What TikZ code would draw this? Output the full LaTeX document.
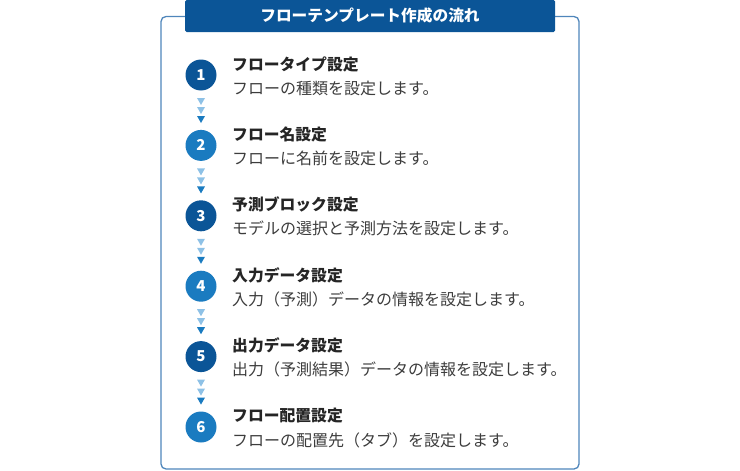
\documentclass[tikz,border=0pt]{standalone}
\usepackage{fontspec}
\setmainfont{Noto Sans CJK JP}
\usetikzlibrary{calc}
\definecolor{navy}{HTML}{0B5597}
\definecolor{midblue}{HTML}{1A7BC0}
\definecolor{paleblue}{HTML}{8EC1E6}
\definecolor{framecol}{HTML}{4F86BB}
\definecolor{txtdark}{HTML}{252525}
\definecolor{txtgray}{HTML}{3C3C3C}
\tikzset{
  framebox/.style={draw=framecol, line width=1.3pt, rounded corners=5pt},
  headbox/.style={fill=navy, rounded corners=1.5pt},
  headtext/.style={text=white, font=\fontsize{15.7}{18}\selectfont\bfseries, inner sep=0pt},
  numdot/.style={circle, minimum size=31pt, inner sep=0pt, text=white, font=\fontsize{15}{16}\selectfont\bfseries},
  oddstep/.style={numdot, fill=navy},
  evenstep/.style={numdot, fill=midblue},
  steptitle/.style={anchor=west, inner sep=0pt, text=txtdark, font=\fontsize{15.8}{18}\selectfont\bfseries},
  stepdesc/.style={anchor=west, inner sep=0pt, text=txtgray, font=\fontsize{16}{18}\selectfont},
}
\begin{document}
\begin{tikzpicture}[x=1pt,y=-1pt]
\useasboundingbox (0,0) rectangle (740,471);
\draw[framebox] (161,16.5) rectangle (579,469);
\fill[headbox] (185,0) rectangle (555,32);
\node[headtext] (head) at (370,16) {フローテンプレート作成の流れ};

\def\pitch{70.4}
\foreach \i/\t/\d/\s in {
  1/フロータイプ設定/フローの種類を設定します。/oddstep,
  2/フロー名設定/フローに名前を設定します。/evenstep,
  3/予測ブロック設定/モデルの選択と予測方法を設定します。/oddstep,
  4/入力データ設定/入力（予測）データの情報を設定します。/evenstep,
  5/出力データ設定/出力（予測結果）データの情報を設定します。/oddstep,
  6/フロー配置設定/フローの配置先（タブ）を設定します。/evenstep}{
  \pgfmathsetmacro\cy{75+(\i-1)*\pitch}
  \node[\s] (c\i) at (201,\cy) {\i};
  \node[steptitle] (t\i) at (232,\cy-11) {\t};
  \node[stepdesc] (d\i) at (232,\cy+13) {\d};
}
\foreach \i in {1,...,5}{
  \pgfmathsetmacro\cy{75+(\i-1)*\pitch}
  \fill[paleblue] (197,\cy+23) -- (205,\cy+23) -- (201,\cy+30) -- cycle;
  \fill[paleblue] (197,\cy+32) -- (205,\cy+32) -- (201,\cy+39) -- cycle;
  \fill[midblue] (197,\cy+41) -- (205,\cy+41) -- (201,\cy+48) -- cycle;
}
\end{tikzpicture}
\end{document}
